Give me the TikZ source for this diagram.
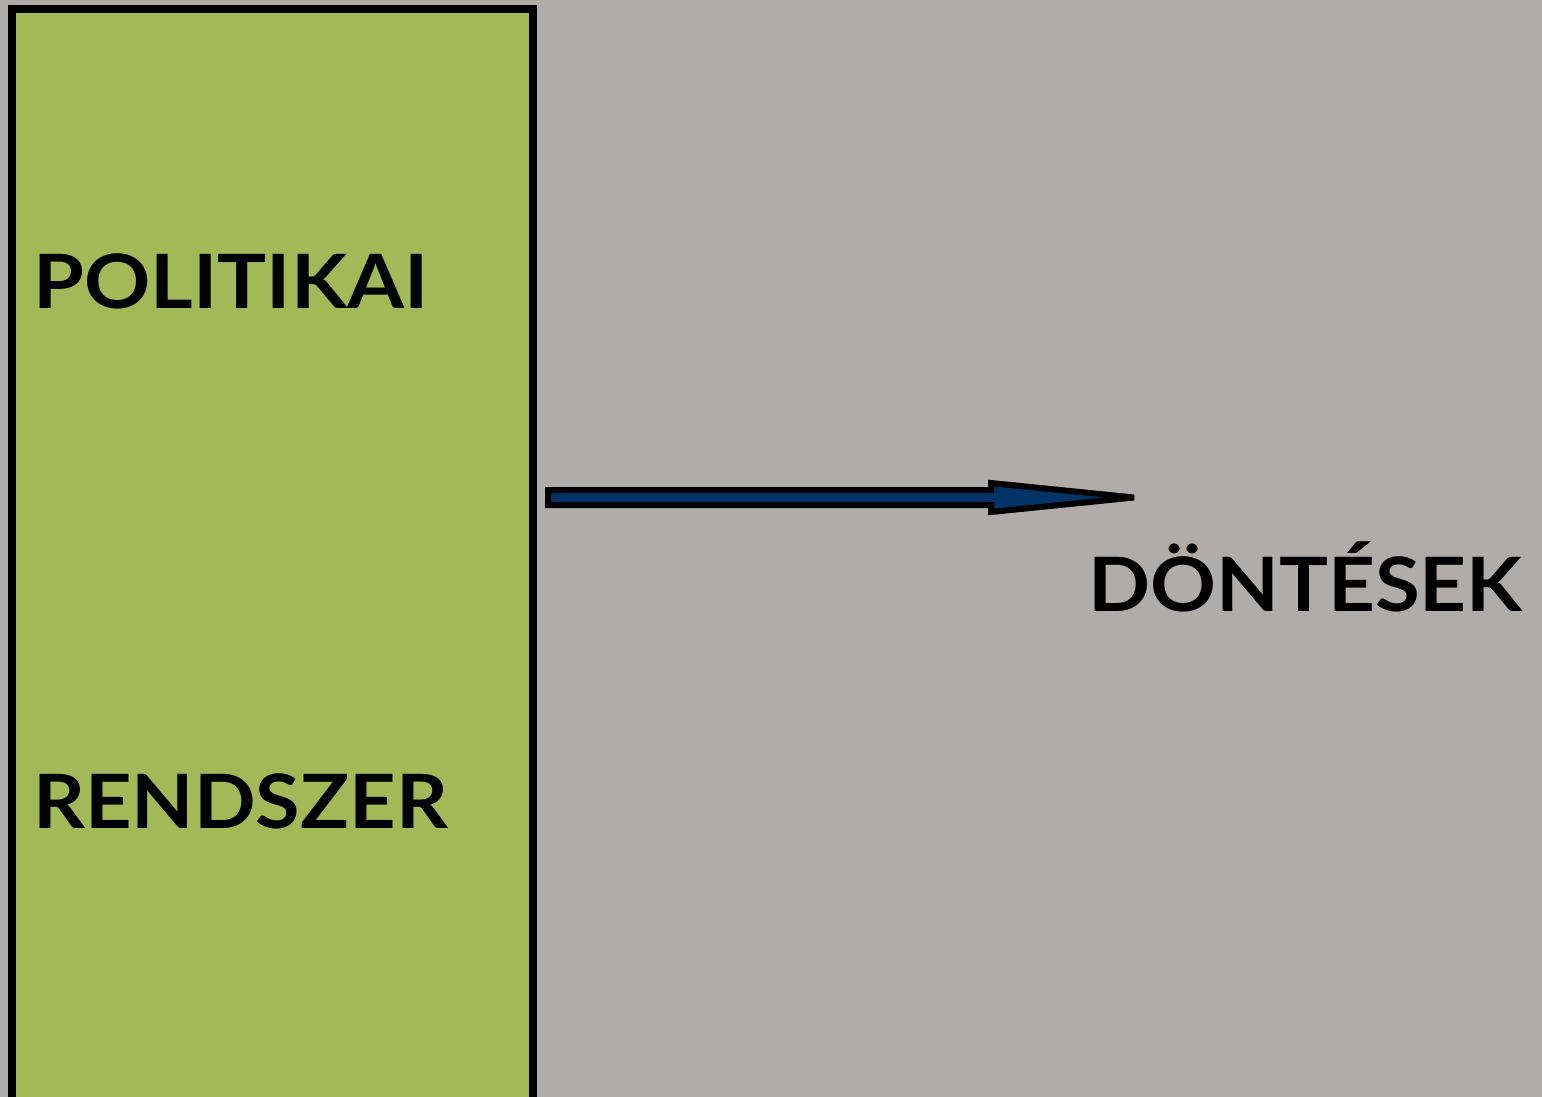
\documentclass[tikz,border=0pt]{standalone}
\usepackage{fontspec}
\setmainfont{Lato}
\definecolor{bggray}{HTML}{AFACA9}
\definecolor{boxgreen}{HTML}{A3B957}
\definecolor{arrowblue}{HTML}{003366}
\begin{document}
\begin{tikzpicture}[x=1pt,y=-1pt,
  lbl/.style={anchor=base west,inner sep=0pt,font=\fontsize{75}{80}\selectfont\bfseries},
  blockarrow/.style={draw=black,fill=arrowblue,line width=6pt,line join=miter,miter limit=3}]
\useasboundingbox (0,0) rectangle (1542,1097);
\clip (0,0) rectangle (1542,1097);
\fill[bggray] (0,0) rectangle (1542,1097);
\draw[fill=boxgreen,line width=8pt] (12,9) rectangle (532.5,1120);
\node[lbl] (pol) at (33,308) {\scalebox{1.095}[1]{POLITIKAI}};
\node[lbl] (ren) at (33,828) {\scalebox{1.08}[1]{RENDSZER}};
\node[lbl] (don) at (1088,611) {\scalebox{1.088}[1]{DÖNTÉSEK}};
\coordinate (astart) at (548,497.5);
\coordinate (atip) at (1134,497.5);
\draw[blockarrow] (548,490) -- (991,490) -- (991,483) -- (atip) -- (991,512) -- (991,505) -- (548,505) -- cycle;
\end{tikzpicture}
\end{document}
